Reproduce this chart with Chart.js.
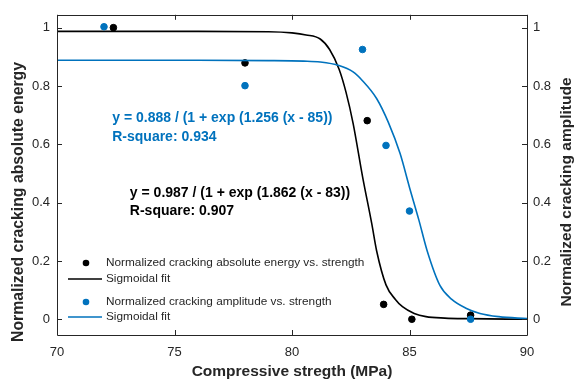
<!DOCTYPE html>
<html>
<head>
<meta charset="utf-8">
<script src="https://cdn.jsdelivr.net/npm/chart.js@4/dist/chart.umd.min.js"></script>
<style>
  html, body { margin:0; padding:0; background:#fff; }
  #wrap { width:579px; height:381px; }
</style>
</head>
<body>
<div id="wrap"><canvas id="sigChart"></canvas></div>
<script>
// measured points
const energyX = [72.4, 78.0, 83.2, 83.9, 85.1, 87.6];
const energyY = [1.0, 0.879, 0.681, 0.051, 0.0, 0.014];
const amplitudeX = [72.0, 78.0, 83.0, 84.0, 85.0, 87.6];
const amplitudeY = [1.003, 0.801, 0.925, 0.596, 0.371, 0.0];

// fit curves
const energyFitX = [70, 76, 79, 80, 80.6, 81.2, 81.6, 82.0, 82.3, 82.6, 83.0, 83.4, 83.6, 84.0, 84.4, 84.7, 85.2, 85.7, 86.5, 87.5, 90];
const energyFitY = [0.987, 0.987, 0.986, 0.982, 0.975, 0.961, 0.925, 0.858, 0.778, 0.672, 0.49, 0.325, 0.235, 0.118, 0.068, 0.043, 0.02, 0.009, 0.004, 0.002, 0.0];
const amplitudeFitX = [70, 76, 79, 80.5, 81.2, 82.0, 82.6, 83.0, 83.6, 84.1, 84.6, 85.0, 85.4, 85.75, 86.3, 86.8, 87.4, 88.0, 88.8, 90];
const amplitudeFitY = [0.888, 0.888, 0.887, 0.885, 0.882, 0.87, 0.848, 0.818, 0.757, 0.675, 0.568, 0.452, 0.34, 0.235, 0.115, 0.068, 0.038, 0.02, 0.009, 0.002];

const xTicks = [70, 75, 80, 85, 90];
const yTicks = [0, 0.2, 0.4, 0.6, 0.8, 1];

const labels = {
  energy: "Normalized cracking absolute energy vs. strength",
  amplitude: "Normalized cracking amplitude vs. strength",
  fit: "Sigmoidal fit",
  yLeft: "Normalized cracking absolute energy",
  yRight: "Normalized cracking amplitude"
};
const notes = [
  {x: 72.35, y: 0.688, text: "y = 0.888 / (1 + exp (1.256 (x - 85))", color: "#0072BD"},
  {x: 72.35, y: 0.626, text: "R-square: 0.934", color: "#0072BD"},
  {x: 73.1, y: 0.431, text: "y = 0.987 / (1 + exp (1.862 (x - 83))", color: "#000000"},
  {x: 73.1, y: 0.37, text: "R-square: 0.907", color: "#000000"}
];

const BLUE = "#0072BD";
const AXC = "#262626";
const FONT = "'Liberation Sans', Arial, Helvetica, sans-serif";

const pts = (xs, ys) => xs.map((x, i) => ({x: x, y: ys[i]}));
const fmt = v => String(Math.round(v * 10) / 10);

function vTitle(ctx, text, x, y, size) {
  ctx.save();
  ctx.translate(x, y);
  ctx.rotate(-Math.PI / 2);
  ctx.textAlign = "center";
  ctx.textBaseline = "middle";
  ctx.fillStyle = AXC;
  ctx.font = "bold " + size + "px " + FONT;
  ctx.fillText(text, 0, 0);
  ctx.restore();
}

// box, inward ticks, notes, legend, y titles
const matlabBits = {
  id: "matlabBits",
  afterDraw(chart) {
    const ctx = chart.ctx;
    const a = chart.chartArea;
    const sx = chart.scales.x, sy = chart.scales.y, sy2 = chart.scales.y2;
    const tl = 5;
    ctx.save();
    ctx.strokeStyle = AXC;
    ctx.lineWidth = 1;
    ctx.beginPath();
    ctx.rect(Math.round(a.left) + 0.5, Math.round(a.top) + 0.5, Math.round(a.right - a.left), Math.round(a.bottom - a.top));
    xTicks.forEach(v => {
      const px = Math.round(sx.getPixelForValue(v)) + 0.5;
      ctx.moveTo(px, a.bottom); ctx.lineTo(px, a.bottom - tl);
      ctx.moveTo(px, a.top); ctx.lineTo(px, a.top + tl);
    });
    yTicks.forEach(v => {
      const py = Math.round(sy.getPixelForValue(v)) + 0.5;
      ctx.moveTo(a.left, py); ctx.lineTo(a.left + tl, py);
      const py2 = Math.round(sy2.getPixelForValue(v)) + 0.5;
      ctx.moveTo(a.right, py2); ctx.lineTo(a.right - tl, py2);
    });
    ctx.stroke();

    // notes
    ctx.font = "bold 14px " + FONT;
    ctx.textBaseline = "middle";
    ctx.textAlign = "left";
    notes.forEach(n => {
      ctx.fillStyle = n.color;
      ctx.fillText(n.text, sx.getPixelForValue(n.x), sy.getPixelForValue(n.y));
    });

    // legend
    const ds = chart.data.datasets;
    const rows = [
      {d: ds[0], y: 263, kind: "pt"},
      {d: ds[1], y: 279, kind: "ln"},
      {d: ds[2], y: 302, kind: "pt"},
      {d: ds[3], y: 317, kind: "ln"}
    ];
    ctx.font = "11.8px " + FONT;
    rows.forEach(r => {
      if (r.kind === "pt") {
        ctx.fillStyle = r.d.backgroundColor;
        ctx.beginPath();
        ctx.arc(86, r.y, 3.3, 0, Math.PI * 2);
        ctx.fill();
      } else {
        ctx.strokeStyle = r.d.borderColor;
        ctx.lineWidth = 1.6;
        ctx.beginPath();
        ctx.moveTo(68, r.y); ctx.lineTo(102, r.y);
        ctx.stroke();
      }
      ctx.fillStyle = AXC;
      ctx.fillText(r.d.label, 106, r.y);
    });
    ctx.restore();

    // y titles, both reading upward
    vTitle(ctx, labels.yLeft, 19, 202, 15.8);
    vTitle(ctx, labels.yRight, 567, 192, 15.5);
  }
};

const yRange = {min: -0.054, max: 1.044};

new Chart(document.getElementById("sigChart"), {
  type: "scatter",
  data: {
    datasets: [
      {label: labels.energy, data: pts(energyX, energyY), backgroundColor: "#000000", borderColor: "#000000",
       pointRadius: 3.3, pointHoverRadius: 3.3, yAxisID: "y", order: 4},
      {label: labels.fit, data: pts(energyFitX, energyFitY), showLine: true, borderColor: "#000000",
       backgroundColor: "#000000", borderWidth: 1.6, pointRadius: 0, cubicInterpolationMode: "monotone",
       yAxisID: "y", order: 3},
      {label: labels.amplitude, data: pts(amplitudeX, amplitudeY), backgroundColor: BLUE, borderColor: BLUE,
       pointRadius: 3.3, pointHoverRadius: 3.3, yAxisID: "y2", order: 2},
      {label: labels.fit, data: pts(amplitudeFitX, amplitudeFitY), showLine: true, borderColor: BLUE,
       backgroundColor: BLUE, borderWidth: 1.6, pointRadius: 0, cubicInterpolationMode: "monotone",
       yAxisID: "y2", order: 1}
    ]
  },
  options: {
    responsive: true,
    maintainAspectRatio: false,
    animation: false,
    layout: {padding: {top: 14, left: 0, right: 0, bottom: 0}},
    plugins: {legend: {display: false}, tooltip: {enabled: false}},
    scales: {
      x: {
        type: "linear", min: 70, max: 90,
        afterBuildTicks: s => { s.ticks = xTicks.map(v => ({value: v})); },
        afterFit: s => { s.height = 46; },
        grid: {display: false, drawTicks: false},
        border: {display: false},
        ticks: {color: AXC, font: {family: FONT, size: 13}, padding: 10, callback: fmt},
        title: {display: true, text: "Compressive stregth (MPa)", color: AXC,
                font: {family: FONT, size: 15.5, weight: "bold"}, padding: {top: 0, bottom: 0}}
      },
      y: {
        position: "left", min: yRange.min, max: yRange.max,
        afterBuildTicks: s => { s.ticks = yTicks.map(v => ({value: v})); },
        afterFit: s => { s.width = 57; },
        grid: {display: false, drawTicks: false},
        border: {display: false},
        ticks: {color: AXC, font: {family: FONT, size: 13}, padding: 7, callback: fmt}
      },
      y2: {
        position: "right", min: yRange.min, max: yRange.max,
        afterBuildTicks: s => { s.ticks = yTicks.map(v => ({value: v})); },
        afterFit: s => { s.width = 52; },
        grid: {display: false, drawTicks: false},
        border: {display: false},
        ticks: {color: AXC, font: {family: FONT, size: 13}, padding: 6, callback: fmt}
      }
    }
  },
  plugins: [matlabBits]
});
</script>
</body>
</html>
